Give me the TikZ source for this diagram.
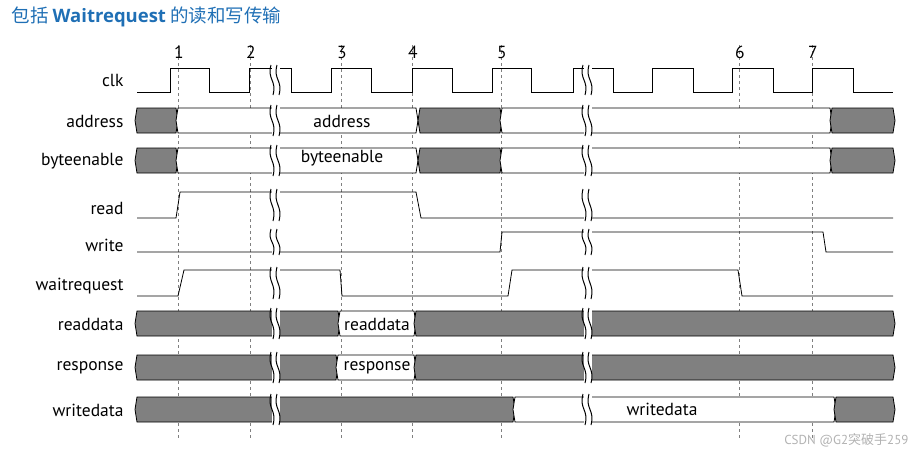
\documentclass[tikz,border=0pt]{standalone}
\usepackage{fontspec}
\setmainfont{PT Sans}
\newfontfamily\cjk{Noto Sans CJK SC}
\definecolor{busgray}{HTML}{808080}
\definecolor{titleblue}{HTML}{1F6FB5}
% bus segment: x1, x2, top, bottom, fill
\newcommand\busseg[5]{\filldraw[fill=#5,draw=black,line width=0.8pt]
  (#1,{(#3+#4)/2}) -- (#1+2,#3) -- (#2-2,#3) -- (#2,{(#3+#4)/2}) -- (#2-2,#4) -- (#1+2,#4) -- cycle;}
% break mark: x, top, bottom
\newcommand\brkmark[3]{\fill[white] (#1-4,#2-3) rectangle (#1+4,#3+3);
  \draw[line width=1pt] (#1-5,#2-3) .. controls (#1-9,{(#2+#3)/2}) and (#1+1,{(#2+#3)/2}) .. (#1-3,#3+3);
  \draw[line width=1pt] (#1+1,#2-3) .. controls (#1-3,{(#2+#3)/2}) and (#1+7,{(#2+#3)/2}) .. (#1+3,#3+3);}
\begin{document}
\begin{tikzpicture}[x=1pt,y=-1pt,
    sig_label/.style={anchor=east,font=\fontsize{17.5}{17.5}\selectfont},
    edge_num/.style={anchor=south west,inner sep=1pt,font=\fontsize{17.5}{17.5}\selectfont},
    data_text/.style={font=\fontsize{17.5}{17.5}\selectfont,inner sep=1pt},
    wave/.style={line width=0.8pt},
    grid_line/.style={dashed,gray,line width=0.6pt}]
    \useasboundingbox (0,0) rectangle (916,455);
    \node[anchor=west,text=titleblue,font=\fontsize{18.5}{18.5}\selectfont] (title) at (8,17)
        {\cjk 包括 \textbf{\fontspec{Open Sans}Waitrequest} 的读和写传输};

    % dashed edge markers
    \foreach \x/\n in {178/1,250/2,341/3,412/4,501/5,739/6,812/7} {
        \draw[grid_line] (\x,45) -- (\x,440);
        \node[edge_num] (e\n) at (\x-5,60) {\n};
    }

    % signal names
    \node[sig_label] (clk) at (127,80) {clk};
    \node[sig_label] (address) at (127,121) {address};
    \node[sig_label] (byteenable) at (127,161) {byteenable};
    \node[sig_label] (read) at (127,208) {read};
    \node[sig_label] (write) at (127,245) {write};
    \node[sig_label] (waitrequest) at (127,286) {waitrequest};
    \node[sig_label] (readdata) at (127,324) {readdata};
    \node[sig_label] (response) at (127,368) {response};
    \node[sig_label] (writedata) at (127,410) {writedata};

    % clk
    \draw[wave] (137,92) -- (170,92) -- (170,68) -- (209,68) -- (209,92) -- (249,92) -- (249,68)
        -- (291,68) -- (291,92) -- (331,92) -- (331,68) -- (371,68) -- (371,92) -- (412,92) -- (412,68)
        -- (452,68) -- (452,92) -- (492,92) -- (492,68) -- (531,68) -- (531,92) -- (573,92) -- (573,68)
        -- (613,68) -- (613,92) -- (652,92) -- (652,68) -- (693,68) -- (693,92) -- (732,92) -- (732,68)
        -- (773,68) -- (773,92) -- (812,92) -- (812,68) -- (853,68) -- (853,92) -- (893,92);

    % address / byteenable
    \foreach \t/\b in {108/133,148/173} {
        \busseg{135}{178}{\t}{\b}{busgray}
        \busseg{176}{418}{\t}{\b}{white}
        \busseg{418}{502}{\t}{\b}{busgray}
        \busseg{500}{832}{\t}{\b}{white}
        \busseg{830}{895}{\t}{\b}{busgray}
    }
    \node[data_text] (addr_val) at (342,121) {address};
    \node[data_text] (be_val) at (342,158) {byteenable};

    % read, write, waitrequest
    \draw[wave] (137,218) -- (176,218) -- (180,192) -- (416,192) -- (421,218) -- (893,218);
    \draw[wave] (137,252) -- (500,252) -- (502,232) -- (823,232) -- (826,252) -- (893,252);
    \draw[wave] (137,296) -- (178,296) -- (184,270) -- (340,270) -- (342,296) -- (508,296)
        -- (512,270) -- (738,270) -- (742,296) -- (893,296);

    % readdata / response
    \busseg{135}{340}{311}{336}{busgray}
    \busseg{338}{416}{311}{336}{white}
    \busseg{414}{895}{311}{336}{busgray}
    \busseg{135}{338}{355}{380}{busgray}
    \busseg{336}{416}{355}{380}{white}
    \busseg{414}{895}{355}{380}{busgray}
    \node[data_text] (rd_val) at (377,324) {readdata};
    \node[data_text] (rsp_val) at (377,368) {response};

    % writedata
    \busseg{135}{515}{397}{422}{busgray}
    \busseg{513}{836}{397}{422}{white}
    \busseg{834}{895}{397}{422}{busgray}
    \node[data_text] (wd_val) at (662,409) {writedata};

    % breaks
    \foreach \x in {276,588} {
        \foreach \t/\b in {68/92,108/133,148/173,192/218,232/252,270/296,311/336,355/380,397/422} {
            \brkmark{\x}{\t}{\b}
        }
    }

    \node[anchor=east,text=gray!60,font=\fontsize{13}{13}\selectfont] (mark) at (912,440)
        {CSDN @G2{\cjk 突破手}259};
\end{tikzpicture}
\end{document}
